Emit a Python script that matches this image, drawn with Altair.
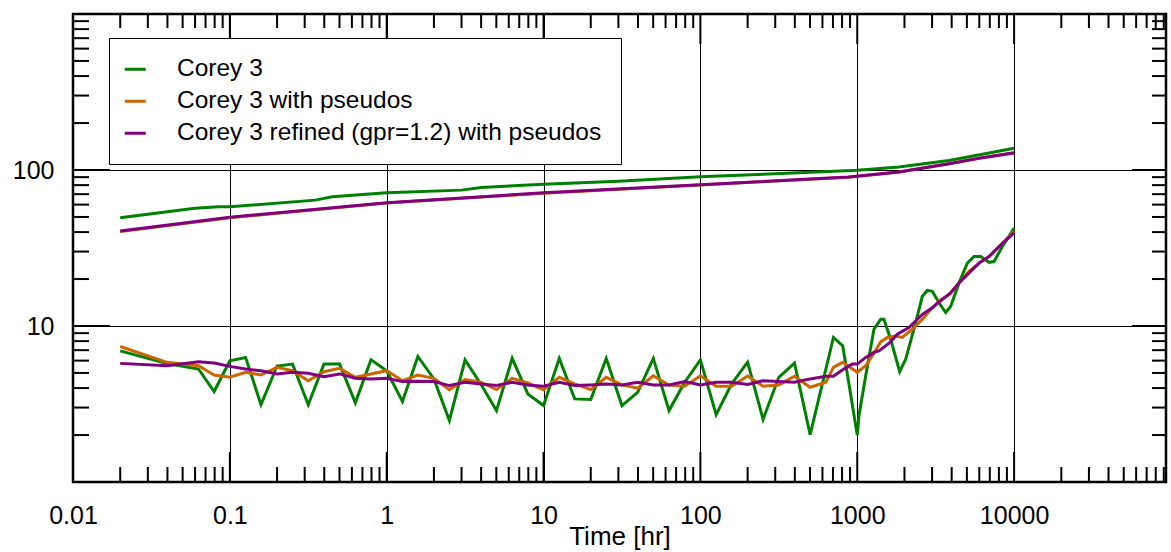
import altair as alt
import pandas as pd

FONT = "Liberation Sans"
SERIES = ["Corey 3", "Corey 3 with pseudos", "Corey 3 refined (gpr=1.2) with pseudos"]
COLORS = ["#008000", "#cc6600", "#800080"]

# ---------------- data (time [hr], value) ----------------
t_green_low = [0.02, 0.0398, 0.0631, 0.0794, 0.1, 0.126, 0.158, 0.2, 0.251, 0.316, 0.398, 0.501,
               0.631, 0.794, 1.0, 1.26, 1.58, 2.0, 2.51, 3.16, 3.98, 5.01,
               6.31, 7.94, 10, 12.6, 15.8, 20, 25.1, 31.6, 39.8, 50.1,
               63.1, 79.4, 100, 126, 158, 200, 251, 316, 398, 501,
               705, 808, 1000, 1026, 1132, 1278, 1410, 1479, 1633, 1865, 2037, 2359, 2600,
               2797, 3011, 3321, 3664, 3945, 4457, 5035, 5556, 6128, 6920, 7450, 8420, 10000]
v_green_low = [6.93, 5.75, 5.3, 3.80, 5.98, 6.29, 3.13, 5.54, 5.70, 3.13, 5.70, 5.70,
               3.22, 6.07, 5.17, 3.28, 6.38, 4.58, 2.48, 6.07, 4.25, 2.87,
               6.20, 3.67, 3.09, 6.20, 3.41, 3.38, 6.20, 3.09, 3.76, 6.20,
               2.87, 4.36, 6.07, 2.70, 4.25, 5.87, 2.52, 4.69, 5.79, 2.01,
               8.44, 7.46, 2.0, 2.67, 4.80, 9.53, 11.03, 11.03, 8.23, 5.09, 6.14, 10.5, 15.5,
               16.9, 16.7, 14.1, 12.2, 13.4, 18.9, 25.3, 27.9, 27.9, 25.6, 25.9, 32.3, 42.4]

t_orange_low = [0.02, 0.0398, 0.0631, 0.0794, 0.1, 0.126, 0.158, 0.2, 0.251, 0.316, 0.398, 0.501,
                0.631, 0.794, 1.0, 1.26, 1.58, 2.0, 2.51, 3.16, 3.98, 5.01,
                6.31, 7.94, 10, 12.6, 15.8, 20, 25.1, 31.6, 39.8, 50.1,
                63.1, 79.4, 100, 126, 158, 200, 251, 316, 398, 501,
                631, 705, 808, 1000, 1132, 1278, 1410, 1554, 1758, 1937, 2244, 2600, 2940, 3321,
                3846, 4457, 5163, 5979, 6920, 8020, 10000]
v_orange_low = [7.39, 5.85, 5.56, 4.85, 4.69, 5.05, 4.85, 5.43, 5.17, 4.46, 5.09, 5.35,
                4.69, 4.93, 5.17, 4.46, 4.85, 4.62, 3.91, 4.53, 4.36, 3.91,
                4.62, 4.31, 3.90, 4.69, 4.25, 3.91, 4.69, 4.19, 3.99, 4.80,
                4.19, 4.11, 4.80, 4.11, 4.11, 4.78, 4.11, 4.19, 4.76, 4.05,
                4.36, 5.43, 5.85, 5.05, 5.56, 6.70, 7.91, 8.44, 8.63, 8.44, 9.53, 11.03, 12.77, 14.43,
                15.9, 18.9, 22.4, 25.3, 27.9, 32.3, 40.5]

t_purple_low = [0.02, 0.0398, 0.0631, 0.0794, 0.1, 0.126, 0.158, 0.2, 0.251, 0.316, 0.398, 0.501,
                0.631, 0.794, 1.0, 1.26, 1.58, 2.0, 2.51, 3.16, 3.98, 5.01,
                6.31, 7.94, 10, 12.6, 15.8, 20, 25.1, 31.6, 39.8, 50.1,
                63.1, 79.4, 100, 126, 158, 200, 251, 316, 398, 501,
                631, 705, 808, 929, 1000, 1132, 1278, 1375, 1620, 1800, 2138, 2600, 3011, 3486, 3945,
                4457, 5163, 5979, 6920, 8020, 10000]
v_purple_low = [5.76, 5.56, 5.90, 5.79, 5.51, 5.30, 5.17, 4.93, 5.05, 4.98, 4.73, 4.93,
                4.62, 4.58, 4.62, 4.40, 4.42, 4.40, 4.15, 4.36, 4.25, 4.15,
                4.36, 4.19, 4.11, 4.36, 4.15, 4.19, 4.25, 4.19, 4.36, 4.19,
                4.19, 4.40, 4.19, 4.36, 4.36, 4.22, 4.46, 4.40, 4.36, 4.58,
                4.76, 4.76, 5.25, 5.70, 5.70, 6.29, 6.77, 6.93, 7.84, 8.86, 9.77, 11.87, 13.1, 14.8, 16.3,
                18.9, 21.9, 25.3, 27.9, 32.3, 39.5]

t_green_up = [0.02, 0.06, 0.085, 0.1, 0.35, 0.45, 1.0, 3.0, 4.0, 10, 30, 100, 300, 1000,
              1845, 3846, 6280, 10000]
v_green_up = [49.4, 56.8, 58.1, 58.1, 64.1, 67.3, 71.4, 74.3, 77.3, 81.1, 84.7, 90.6, 94.6, 99.5,
              104.5, 115.2, 126, 138]

t_orange_up = [0.02, 0.1, 1.0, 10, 100, 880, 1845, 3846, 6280, 10000]
v_orange_up = [40.3, 49.5, 61.4, 71.0, 80.2, 90.0, 97.0, 109.6, 119.8, 128.7]

t_purple_up = [0.02, 0.1, 1.0, 10, 100, 880, 1845, 3846, 6280, 10000]
v_purple_up = [40.7, 49.8, 61.7, 71.4, 80.5, 90.2, 97.1, 109.8, 120, 129]

# axis tick values
X_LABELS = [0.01, 0.1, 1, 10, 100, 1000, 10000]
Y_LABELS = [10, 100]
X_MAJOR = [0.1, 1, 10, 100, 1000, 10000]
Y_MAJOR = [1, 10, 100, 1000]
X_MINOR = [m * 10.0 ** e for e in range(-2, 5) for m in range(2, 10)]
Y_MINOR = [m * 10.0 ** e for e in range(0, 3) for m in range(2, 10)]

W, H = 1093, 468


def frame(series, t_low, v_low, t_up, v_up):
    lo = pd.DataFrame({"time": t_low, "value": v_low, "series": series, "curve": "low"})
    up = pd.DataFrame({"time": t_up, "value": v_up, "series": series, "curve": "up"})
    return pd.concat([lo, up], ignore_index=True)


df_g = frame(SERIES[0], t_green_low, v_green_low, t_green_up, v_green_up)
df_o = frame(SERIES[1], t_orange_low, v_orange_low, t_orange_up, v_orange_up)
df_p = frame(SERIES[2], t_purple_low, v_purple_low, t_purple_up, v_purple_up)

xs = alt.Scale(type="log", domain=[0.01, 93000], nice=False)
ys = alt.Scale(type="log", domain=[1, 1000], nice=False)
cs = alt.Scale(domain=SERIES, range=COLORS)

x_axis = alt.Axis(values=X_LABELS, format="~g", grid=True, gridColor="black", gridWidth=1,
                  gridOpacity=1, ticks=False, domain=False, labelFontSize=25, labelFont=FONT,
                  labelColor="black", labelPadding=21, labelFlush=False, labelOverlap=False,
                  title="Time [hr]", titleFont=FONT, titleFontSize=26, titleFontWeight="normal",
                  titleColor="black", titlePadding=-5)
y_axis = alt.Axis(values=Y_LABELS, format="~g", grid=True, gridColor="black", gridWidth=1,
                  gridOpacity=1, ticks=False, domain=False, labelFontSize=25, labelFont=FONT,
                  labelColor="black", labelPadding=19, title=None)

legend = alt.Legend(title=None, orient="none", legendX=36, legendY=24, strokeColor="black",
                    fillColor="white", padding=19, symbolType="stroke", symbolStrokeWidth=3,
                    symbolSize=441, symbolOffset=-5, labelFontSize=24.5, labelFont=FONT,
                    labelColor="black", labelOffset=29.5, rowPadding=7, labelLimit=1000)


def lines(df, first=False):
    return alt.Chart(df).mark_line(strokeWidth=3, clip=True).encode(
        x=alt.X("time:Q", scale=xs, axis=x_axis if first else alt.Undefined),
        y=alt.Y("value:Q", scale=ys, axis=y_axis if first else alt.Undefined),
        color=alt.Color("series:N", scale=cs, legend=legend),
        detail="curve:N",
    )


def xticks(vals, y0, y1):
    return alt.Chart(pd.DataFrame({"time": vals})).mark_rule(color="black", strokeWidth=2).encode(
        x=alt.X("time:Q", scale=xs), y=alt.value(y0), y2=alt.value(y1))


def yticks(vals, x0, x1):
    return alt.Chart(pd.DataFrame({"value": vals})).mark_rule(color="black", strokeWidth=2).encode(
        y=alt.Y("value:Q", scale=ys), x=alt.value(x0), x2=alt.value(x1))


chart = alt.layer(
    lines(df_g, first=True),
    lines(df_o),
    lines(df_p),
    xticks(X_MAJOR, H, H - 30), xticks(X_MINOR, H, H - 15),
    xticks(X_MAJOR, 0, 30), xticks(X_MINOR, 0, 14),
    yticks(Y_MAJOR, 0, 37), yticks(Y_MINOR, 0, 16),
    yticks(Y_MAJOR, W, W - 34), yticks(Y_MINOR, W, W - 14),
).properties(
    width=W, height=H, autosize="none",
    padding={"left": 73, "top": 14, "right": 5, "bottom": 70},
    background="white",
).configure(font=FONT).configure_view(stroke="black", strokeWidth=2.5)

chart.save("out.html", embed_options={"renderer": "svg", "actions": False})
